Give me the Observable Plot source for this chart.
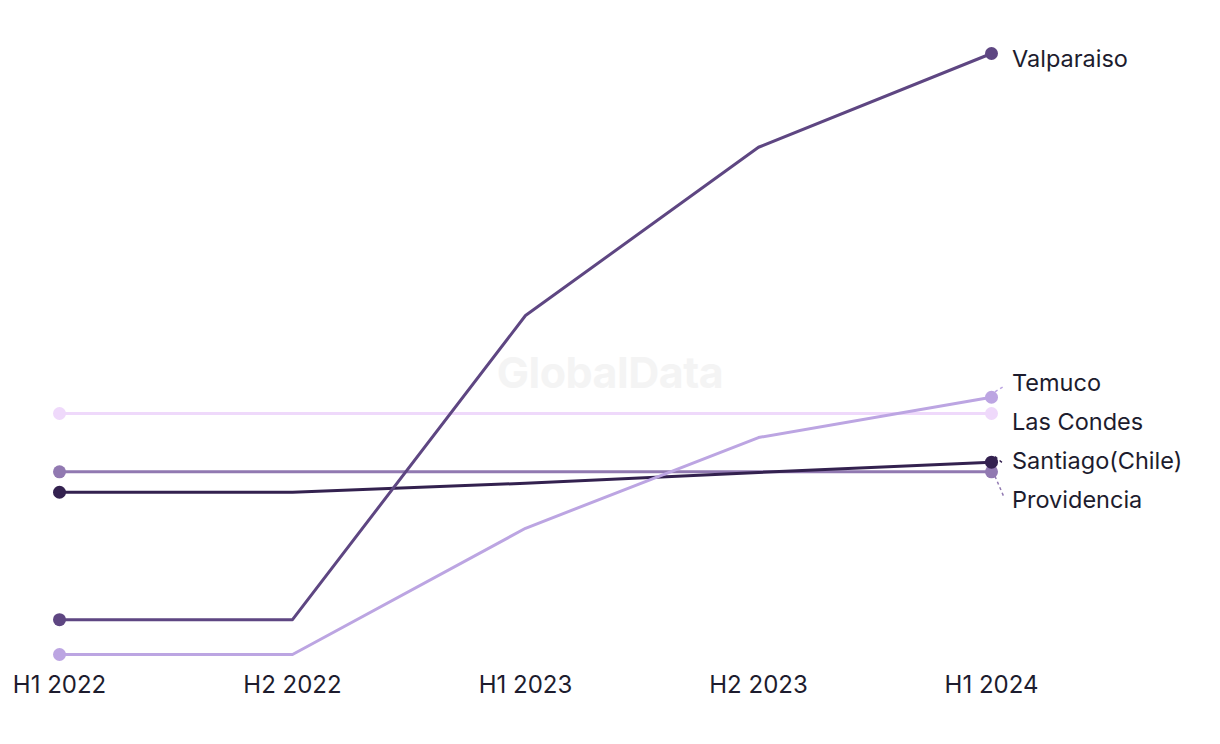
<!DOCTYPE html>
<html>
<head>
<meta charset="utf-8">
<script src="https://cdn.jsdelivr.net/npm/d3@7"></script>
<script src="https://cdn.jsdelivr.net/npm/@observablehq/plot@0.6"></script>
<style>
  html, body { margin: 0; padding: 0; background: #fff; }
  #wrap { position: relative; width: 1220px; height: 744px; }
  #wm { position: absolute; left: 0; top: 0; width: 1220px; height: 744px; display: flex; align-items: center; justify-content: center;
        font-family: Inter, "Noto Sans", sans-serif; font-weight: 700; font-size: 43px; color: #f4f4f4; letter-spacing: -0.5px; z-index: 0; }
  #chart { position: absolute; left: 0; top: 0; z-index: 1; }
  #chart svg { background: transparent !important; }
</style>
</head>
<body>
<div id="wrap"><div id="wm">GlobalData</div><div id="chart"></div></div>
<script>
const periods = ["H1 2022", "H2 2022", "H1 2023", "H2 2023", "H1 2024"];
const seriesNames = ["Las Condes", "Providencia", "Santiago(Chile)", "Temuco", "Valparaiso"];
const seriesColors = ["#efd9fb", "#9179b1", "#33214f", "#bca5e2", "#5e4682"];
const lasCondes   = [40.1, 40.1, 40.1, 40.1, 40.1];
const providencia = [30.4, 30.4, 30.4, 30.4, 30.4];
const santiago    = [27.0, 27.0, 28.5, 30.3, 32.0];
const temuco      = [0.0, 0.0, 21.0, 36.1, 42.8];
const valparaiso  = [5.8, 5.8, 56.4, 84.4, 100.0];

const valuesBySeries = [lasCondes, providencia, santiago, temuco, valparaiso];
const rows = [];
seriesNames.forEach((s, i) => periods.forEach((p, j) => rows.push({series: s, period: p, value: valuesBySeries[i][j]})));
const lastRows = rows.filter(d => d.period === periods[periods.length - 1]);
const firstRows = rows.filter(d => d.period === periods[0]);

const FONT = "Inter, 'Noto Sans', sans-serif";

// custom mark: dodged end labels with dashed leaders
function endLabels(data) {
  return (index, scales) => {
    const g = d3.create("svg:g");
    const items = data.map(d => ({d, x: scales.x(d.period), y0: scales.y(d.value), y: scales.y(d.value), c: scales.color(d.series)}));
    items.sort((a, b) => a.y0 - b.y0);
    const gap = 39;
    for (let it = 0; it < 300; it++) {
      for (let i = 0; i < items.length - 1; i++) {
        const a = items[i], b = items[i + 1];
        const diff = b.y - a.y;
        if (diff < gap) { const push = (gap - diff) / 2; a.y -= push; b.y += push; }
      }
    }
    for (const it of items) {
      const yl = it.y + 6;
      if (Math.abs(it.y - it.y0) > 5) {
        const dir = Math.sign(yl - it.y0) || 1;
        g.append("line").attr("x1", it.x + 4).attr("y1", it.y0 + dir * 5)
          .attr("x2", it.x + 13).attr("y2", yl - dir * 3)
          .attr("stroke", it.c).attr("stroke-width", 1.5).attr("stroke-dasharray", "3,3");
      }
      g.append("text").attr("x", it.x + 21).attr("y", yl).attr("dy", "0.35em")
        .attr("text-anchor", "start")
        .attr("fill", "#1d1c2e").attr("font-family", FONT).attr("font-size", 23.5).text(it.d.series);
    }
    return g.node();
  };
}

const chart = Plot.plot({
  width: 1220,
  height: 744,
  marginLeft: 58,
  marginRight: 228,
  marginTop: 53,
  marginBottom: 90,
  style: {fontFamily: FONT, background: "transparent"},
  x: {type: "point", domain: periods, padding: 0},
  y: {domain: [0, 100], axis: null},
  color: {domain: seriesNames, range: seriesColors},
  marks: [
    Plot.axisX({tickSize: 0, tickPadding: 21, fontSize: 24, fill: "#1d1c2e", label: null}),
    Plot.line(rows, {x: "period", y: "value", z: "series", stroke: "series", strokeWidth: 3}),
    Plot.dot(firstRows, {x: "period", y: "value", fill: "series", r: 6.5}),
    Plot.dot(lastRows, {x: "period", y: "value", fill: "series", r: 6.5}),
    endLabels(lastRows)
  ]
});
document.getElementById("chart").appendChild(chart);
</script>
</body>
</html>
